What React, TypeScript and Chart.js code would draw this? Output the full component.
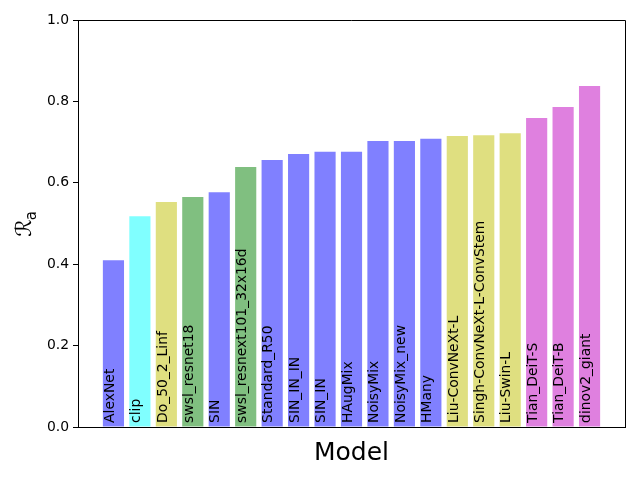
import React, { useEffect, useRef } from 'react';
import { Chart, registerables } from 'chart.js';

Chart.register(...registerables);

const models = [
  'AlexNet', 'clip', 'Do_50_2_Linf', 'swsl_resnet18', 'SIN', 'swsl_resnext101_32x16d',
  'Standard_R50', 'SIN_IN_IN', 'SIN_IN', 'HAugMix', 'NoisyMix', 'NoisyMix_new', 'HMany',
  'Liu-ConvNeXt-L', 'Singh-ConvNeXt-L-ConvStem', 'Liu-Swin-L', 'Tian_DeiT-S', 'Tian_DeiT-B',
  'dinov2_giant',
];
const raValues = [
  0.410, 0.518, 0.553, 0.565, 0.577, 0.639, 0.656, 0.671, 0.676, 0.676, 0.703, 0.703, 0.708,
  0.715, 0.717, 0.722, 0.759, 0.786, 0.838,
];
const groups = ['b', 'c', 'y', 'g', 'b', 'g', 'b', 'b', 'b', 'b', 'b', 'b', 'b', 'y', 'y', 'y', 'm', 'm', 'm'];
const yTicks = [0, 0.2, 0.4, 0.6, 0.8, 1.0];
const xTitle = 'Model';

const groupColors: Record<string, string> = {
  b: '#8080ff',
  c: '#80ffff',
  y: '#dfdf80',
  g: '#80bf80',
  m: '#df80df',
};

const FONT = "'DejaVu Sans', sans-serif";

const overlayPlugin = {
  id: 'overlay',
  afterDatasetsDraw(chart: any) {
    const ctx = chart.ctx as CanvasRenderingContext2D;
    const meta = chart.getDatasetMeta(0);
    const yScale = chart.scales.y;
    const baseY = yScale.getPixelForValue(0.01);
    ctx.save();
    ctx.fillStyle = '#000';
    ctx.font = `13.9px ${FONT}`;
    ctx.textAlign = 'left';
    ctx.textBaseline = 'alphabetic';
    meta.data.forEach((bar: any, i: number) => {
      const { x, width } = bar.getProps(['x', 'width'], true);
      const left = x - width / 2;
      ctx.save();
      ctx.translate(left + 10.8, baseY);
      ctx.rotate(-Math.PI / 2);
      ctx.fillText(models[i], 0, 0);
      ctx.restore();
    });
    ctx.restore();
  },
  afterDraw(chart: any) {
    const ctx = chart.ctx as CanvasRenderingContext2D;
    const { left, right, top, bottom } = chart.chartArea;
    ctx.save();
    // top & right spines
    ctx.strokeStyle = '#000';
    ctx.lineWidth = 1;
    ctx.beginPath();
    ctx.moveTo(left, top + 0.5);
    ctx.lineTo(right + 0.5, top + 0.5);
    ctx.lineTo(right + 0.5, bottom);
    ctx.stroke();

    // x title
    ctx.fillStyle = '#000';
    ctx.font = `25px ${FONT}`;
    ctx.textAlign = 'center';
    ctx.textBaseline = 'alphabetic';
    ctx.fillText(xTitle, (left + right) / 2, 460);

    // y title: script R with subscript a
    const cy = (top + bottom) / 2;
    const rFont = `22px ${FONT}`;
    const aFont = `15px ${FONT}`;
    ctx.save();
    ctx.translate(31, cy);
    ctx.rotate(-Math.PI / 2);
    ctx.font = rFont;
    const wR = ctx.measureText('ℛ').width;
    ctx.font = aFont;
    const wa = ctx.measureText('a').width;
    const total = wR + wa;
    ctx.textAlign = 'left';
    ctx.font = rFont;
    ctx.fillText('ℛ', -total / 2, 0);
    ctx.font = aFont;
    ctx.fillText('a', -total / 2 + wR - 1, 5);
    ctx.restore();
    ctx.restore();
  },
};

export default function App() {
  const canvasRef = useRef<HTMLCanvasElement | null>(null);

  useEffect(() => {
    document.body.style.margin = '0';
    const canvas = canvasRef.current;
    if (!canvas) return;
    const n = models.length;
    const span = n - 1 + 0.8;
    const chart = new Chart(canvas, {
      type: 'bar',
      data: {
        datasets: [
          {
            data: models.map((_, i) => ({ x: i, y: raValues[i] })),
            backgroundColor: groups.map((g) => groupColors[g]),
            borderWidth: 0,
            barPercentage: 0.8,
            categoryPercentage: 1,
          },
        ],
      },
      options: {
        animation: false,
        responsive: false,
        devicePixelRatio: 1,
        layout: { padding: { top: 20, right: 15, left: 0, bottom: 0 } },
        plugins: { legend: { display: false }, tooltip: { enabled: false } },
        scales: {
          x: {
            type: 'linear',
            offset: false,
            min: -0.4 - 0.05 * span,
            max: n - 1 + 0.4 + 0.05 * span,
            ticks: { display: false },
            grid: { display: false, offset: false },
            border: { display: true, color: '#000', width: 1 },
            afterFit(scale: any) {
              scale.height = 53;
            },
          },
          y: {
            type: 'linear',
            min: 0,
            max: 1,
            afterBuildTicks(scale: any) {
              scale.ticks = yTicks.map((v) => ({ value: v }));
            },
            ticks: {
              color: '#000',
              padding: 4,
              font: { family: FONT, size: 13.9 },
              callback: (v: any) => Number(v).toFixed(1),
            },
            grid: {
              display: true,
              drawOnChartArea: false,
              drawTicks: true,
              tickLength: 5,
              color: '#000',
              lineWidth: 1,
            },
            border: { display: true, color: '#000', width: 1 },
            afterFit(scale: any) {
              scale.width = 78;
            },
          },
        },
      },
      plugins: [overlayPlugin],
    });
    return () => chart.destroy();
  }, []);

  return (
    <div style={{ position: 'absolute', left: 0, top: 0 }}>
      <canvas ref={canvasRef} width={640} height={480} style={{ width: 640, height: 480 }} />
    </div>
  );
}
